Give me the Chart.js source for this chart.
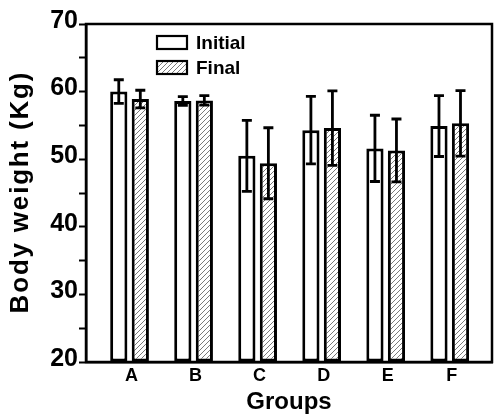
<!DOCTYPE html>
<html>
<head>
<meta charset="utf-8">
<script src="https://cdn.jsdelivr.net/npm/chart.js@4.4.1/dist/chart.umd.min.js"></script>
<style>
html,body{margin:0;padding:0;background:#fff;}
#wrap{width:500px;height:419px;position:relative;}
</style>
</head>
<body>
<div id="wrap"><canvas id="c" width="500" height="419"></canvas></div>
<script>
// ---- data ----
const categories = ['A', 'B', 'C', 'D', 'E', 'F'];
const seriesLabels = ['Initial', 'Final'];
const initialMeans = [60.0, 58.6, 50.5, 54.3, 51.6, 54.9];
const initialErrors = [1.75, 0.65, 5.25, 5.0, 4.9, 4.5];
const finalMeans = [58.9, 58.7, 49.4, 54.6, 51.3, 55.3];
const finalErrors = [1.3, 0.7, 5.25, 5.5, 4.65, 4.85];
const yMin = 20, yMax = 70, yStep = 5;
const yTitle = 'Body weight (Kg)';
const xTitle = 'Groups';

const FONT = '"Liberation Sans", Arial, Helvetica, sans-serif';

const canvas = document.getElementById('c');
const ctx = canvas.getContext('2d');

function makeHatch() {
  const s = 5;
  const p = document.createElement('canvas');
  p.width = s; p.height = s;
  const g = p.getContext('2d');
  g.fillStyle = '#ffffff';
  g.fillRect(0, 0, s, s);
  g.strokeStyle = '#7a7a7a';
  g.lineWidth = 1;
  g.beginPath();
  g.moveTo(-1, s + 1); g.lineTo(s + 1, -1);
  g.moveTo(-1, 1); g.lineTo(1, -1);
  g.moveTo(s - 1, s + 1); g.lineTo(s + 1, s - 1);
  g.stroke();
  return ctx.createPattern(p, 'repeat');
}
const hatch = makeHatch();

const toPoints = (arr) => arr.map((v, i) => ({ x: i + 1, y: v }));

const errorBarPlugin = {
  id: 'errorBars',
  afterDatasetsDraw(chart) {
    const c = chart.ctx;
    const ys = chart.scales.y;
    c.save();
    c.strokeStyle = '#000';
    c.lineWidth = 2.8;
    chart.data.datasets.forEach((ds, di) => {
      const meta = chart.getDatasetMeta(di);
      meta.data.forEach((bar, i) => {
        const m = ds.data[i].y, e = ds.errors[i];
        const x = bar.x;
        const yt = ys.getPixelForValue(m + e);
        const yb = ys.getPixelForValue(m - e);
        const cap = 5;
        c.beginPath();
        c.moveTo(x, yt); c.lineTo(x, yb);
        c.moveTo(x - cap, yt); c.lineTo(x + cap, yt);
        c.moveTo(x - cap, yb); c.lineTo(x + cap, yb);
        c.stroke();
      });
    });
    c.restore();
  }
};

const framePlugin = {
  id: 'frame',
  afterDatasetsDraw(chart) {
    const a = chart.chartArea;
    const c = chart.ctx;
    c.save();
    c.strokeStyle = '#000';
    c.lineWidth = 2.5;
    c.strokeRect(a.left, a.top, a.right - a.left, a.bottom - a.top);
    c.restore();
  }
};

const legendPlugin = {
  id: 'insideLegend',
  afterDraw(chart) {
    const c = chart.ctx;
    c.save();
    chart.data.datasets.forEach((ds, i) => {
      const bx = 157, by = 36 + i * 25, bw = 30, bh = 13;
      c.fillStyle = ds.backgroundColor;
      c.fillRect(bx, by, bw, bh);
      c.strokeStyle = '#000';
      c.lineWidth = 2.2;
      c.strokeRect(bx, by, bw, bh);
      c.fillStyle = '#000';
      c.font = 'bold 19px ' + FONT;
      c.textAlign = 'left';
      c.textBaseline = 'middle';
      c.fillText(ds.label, 196, by + bh / 2 + 1);
    });
    c.restore();
  }
};

const yTitlePlugin = {
  id: 'yTitle',
  afterDraw(chart) {
    const c = chart.ctx;
    const a = chart.chartArea;
    c.save();
    c.translate(27.5, (a.top + a.bottom) / 2);
    c.rotate(-Math.PI / 2);
    c.font = 'bold 26px ' + FONT;
    c.fillStyle = '#000';
    c.textAlign = 'center';
    c.textBaseline = 'alphabetic';
    if ('letterSpacing' in c) c.letterSpacing = '1.8px';
    c.fillText(yTitle, 0.9, 0);
    c.restore();
  }
};

new Chart(ctx, {
  type: 'bar',
  data: {
    datasets: [
      {
        label: seriesLabels[0],
        data: toPoints(initialMeans),
        errors: initialErrors,
        backgroundColor: '#ffffff',
        borderColor: '#000000',
        borderWidth: 3,
        borderSkipped: false,
        base: yMin
      },
      {
        label: seriesLabels[1],
        data: toPoints(finalMeans),
        errors: finalErrors,
        backgroundColor: hatch,
        borderColor: '#000000',
        borderWidth: 3,
        borderSkipped: false,
        base: yMin
      }
    ]
  },
  options: {
    responsive: false,
    animation: false,
    devicePixelRatio: 1,
    categoryPercentage: 0.672,
    barPercentage: 0.8,
    layout: { padding: { left: 0, right: 8, top: 24, bottom: 0 } },
    plugins: {
      legend: { display: false },
      tooltip: { enabled: false },
      title: { display: false }
    },
    scales: {
      x: {
        type: 'linear',
        offset: false,
        min: 0.32,
        max: 6.66,
        afterBuildTicks: (s) => { s.ticks = categories.map((c, i) => ({ value: i + 1 })); },
        afterFit: (s) => { s.height = 57; },
        grid: { display: false, drawTicks: false },
        border: { display: true, color: '#000', width: 2.5 },
        ticks: {
          autoSkip: false,
          maxRotation: 0,
          padding: 3,
          labelOffset: 2,
          color: '#000',
          font: { family: FONT, size: 18, weight: 'bold' },
          callback: (v) => categories[Math.round(v) - 1] || ''
        },
        title: {
          display: true,
          text: xTitle,
          color: '#000',
          font: { family: FONT, size: 24, weight: 'bold' },
          padding: { top: 0, bottom: 2 }
        }
      },
      y: {
        min: yMin,
        max: yMax,
        afterFit: (s) => { s.width = 86; },
        grid: {
          display: true,
          drawOnChartArea: false,
          drawTicks: true,
          tickLength: 7,
          tickWidth: 2,
          tickColor: '#000'
        },
        border: { display: true, color: '#000', width: 2.5 },
        ticks: {
          stepSize: yStep,
          padding: 1,
          labelOffset: -3,
          color: '#000',
          font: { family: FONT, size: 25, weight: 'bold' },
          callback: (v) => (v % 10 === 0 ? String(v) : '')
        },
        title: { display: false }
      }
    }
  },
  plugins: [errorBarPlugin, framePlugin, legendPlugin, yTitlePlugin]
});
</script>
</body>
</html>
